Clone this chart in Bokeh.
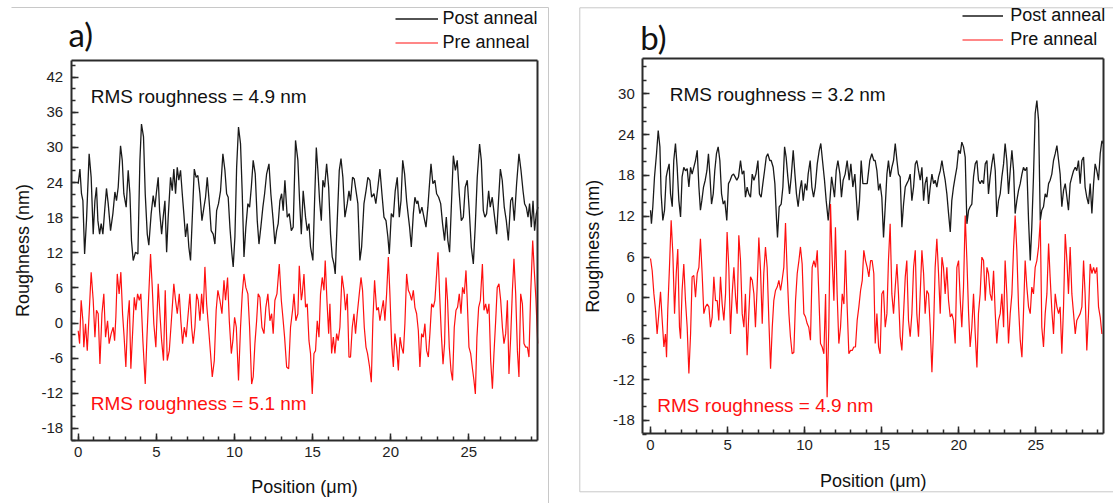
from bokeh.plotting import figure
from bokeh.layouts import row
from bokeh.models import Range1d, FixedTicker, Label, Legend, LegendItem, LinearAxis, NumeralTickFormatter
from bokeh.embed import file_html
from bokeh.resources import INLINE

# ---------------- data ----------------
# panel a) post anneal  (position um, roughness nm)
POST_A = [(0.00,23.8),(0.11,26.3),(0.21,22.1),(0.30,20.9),(0.41,11.8),(0.53,17.5),(0.70,28.9),(0.83,24.9),(0.96,15.2),(1.07,20.9),(1.17,23.2),(1.26,17.5),(1.37,15.2),(1.47,17.0),(1.58,15.2),(1.71,19.8),(1.81,23.0),(1.92,20.4),(2.07,15.8),(2.22,18.7),(2.35,22.4),(2.45,20.9),(2.56,23.2),(2.71,30.3),(2.82,27.8),(2.92,22.1),(3.07,19.8),(3.20,26.1),(3.31,22.1),(3.41,14.1),(3.52,10.7),(3.67,12.1),(3.82,11.8),(3.95,27.8),(4.05,34.0),(4.18,31.8),(4.29,22.1),(4.42,15.2),(4.52,13.3),(4.67,18.7),(4.80,21.8),(4.91,19.8),(5.01,22.4),(5.12,24.9),(5.21,19.2),(5.34,15.2),(5.44,18.1),(5.55,20.9),(5.66,12.1),(5.76,18.1),(5.91,24.9),(6.02,22.6),(6.12,26.3),(6.23,22.1),(6.34,26.6),(6.44,24.4),(6.55,26.1),(6.66,22.1),(6.76,18.7),(6.87,14.7),(6.98,17.0),(7.08,13.0),(7.19,10.7),(7.32,19.2),(7.43,26.3),(7.55,24.9),(7.66,25.2),(7.79,22.1),(7.92,17.5),(8.05,19.8),(8.15,21.5),(8.26,24.9),(8.41,19.8),(8.51,15.8),(8.64,15.2),(8.75,13.5),(8.86,19.2),(8.98,20.4),(9.11,22.6),(9.26,28.9),(9.39,26.1),(9.50,22.1),(9.60,21.5),(9.71,16.4),(9.84,11.8),(9.92,9.6),(10.03,14.7),(10.14,26.6),(10.26,33.5),(10.39,30.6),(10.50,22.1),(10.61,11.3),(10.73,16.4),(10.86,20.4),(10.97,19.8),(11.08,23.2),(11.20,27.8),(11.33,25.5),(11.46,17.5),(11.57,13.5),(11.69,16.4),(11.82,19.8),(11.93,22.1),(12.06,25.5),(12.21,27.2),(12.33,22.1),(12.48,17.5),(12.59,13.5),(12.70,15.8),(12.80,17.0),(12.91,20.9),(13.02,22.1),(13.12,19.2),(13.23,24.4),(13.38,18.1),(13.51,18.7),(13.64,15.8),(13.76,16.4),(13.91,31.2),(14.06,27.8),(14.17,20.9),(14.28,15.2),
          (14.40,22.6),(14.55,18.1),(14.66,15.8),(14.77,17.0),(14.87,13.0),(15.02,10.7),(15.13,20.9),(15.24,30.0),(15.34,26.1),(15.45,20.9),(15.56,17.5),(15.66,24.4),(15.77,23.2),(15.90,27.2),(16.03,23.2),(16.15,15.2),(16.26,11.3),(16.37,10.1),(16.45,8.4),(16.58,17.5),(16.71,26.1),(16.82,28.1),(16.94,24.9),(17.07,18.1),(17.22,20.4),(17.33,22.6),(17.43,20.9),(17.56,24.9),(17.67,24.6),(17.78,22.6),(17.90,20.4),(18.03,10.7),(18.14,13.0),(18.29,20.4),(18.42,22.6),(18.54,24.9),(18.67,24.4),(18.78,21.5),(18.93,22.1),(19.05,20.4),(19.18,23.2),(19.31,26.3),(19.44,22.1),(19.57,18.1),(19.70,17.5),(19.82,14.7),(19.91,11.8),(20.04,18.7),(20.17,18.1),(20.29,22.6),(20.42,24.9),(20.55,18.1),(20.66,20.9),(20.77,27.8),(20.89,25.5),(21.02,20.9),(21.11,18.7),(21.21,16.4),(21.32,13.0),(21.45,18.7),(21.55,21.5),(21.66,20.4),(21.74,20.9),(21.87,18.7),(22.00,19.8),(22.13,18.1),(22.26,16.4),(22.38,19.8),(22.47,23.2),(22.58,27.2),(22.70,23.8),(22.83,24.4),(22.94,22.1),(23.07,21.5),(23.20,20.4),(23.32,17.0),(23.45,14.1),(23.56,18.1),(23.66,14.1),(23.77,12.1),(23.88,19.8),(24.01,28.6),(24.14,26.1),(24.26,27.8),(24.39,22.1),(24.52,17.5),(24.65,18.1),(24.77,23.2),(24.90,24.4),(25.03,19.2),(25.16,13.0),(25.29,10.1),(25.41,16.4),(25.54,24.9),(25.69,30.6),(25.80,27.8),(25.93,19.2),(26.03,18.1),(26.14,18.7),(26.27,22.6),(26.37,19.8),(26.50,21.5),(26.65,18.1),(26.78,15.2),(26.89,20.4),(27.02,26.3),(27.14,24.4),(27.27,19.8),(27.40,17.5),(27.53,14.1),(27.68,20.9),(27.79,21.5),(27.91,17.5),(28.06,23.8),(28.21,28.9),(28.34,26.1),(28.47,22.6),(28.57,20.4),(28.68,19.8),(28.79,18.1),(28.89,20.4),(29.00,16.4),(29.11,20.9),(29.21,15.8),(29.32,18.7),(29.43,19.8)]

# panel a) pre anneal
PRE_A = [(0.00,-1.3),(0.09,-3.5),(0.19,3.9),(0.30,0.4),(0.36,-4.1),(0.47,-0.1),(0.58,-4.7),(0.70,1.6),(0.83,8.7),(0.96,3.9),(1.07,-2.4),(1.17,2.2),(1.28,1.6),(1.39,-7.0),(1.52,1.6),(1.64,5.0),(1.75,-2.4),(1.88,0.4),(1.98,-3.5),(2.11,-1.8),(2.24,-0.7),(2.33,-3.0),(2.41,1.0),(2.50,8.4),(2.62,5.0),(2.73,8.7),(2.84,1.6),(2.94,-2.4),(3.05,-7.5),(3.16,0.4),(3.27,3.9),(3.37,-7.8),(3.48,-1.8),(3.59,4.4),(3.69,2.2),(3.80,5.0),(3.91,3.9),(4.01,5.0),(4.14,-3.0),(4.29,-10.4),(4.40,-2.4),(4.50,3.9),(4.63,11.8),(4.74,6.1),(4.84,-0.1),(4.97,-4.1),(5.12,6.7),(5.23,1.6),(5.34,-3.0),(5.46,-6.4),(5.57,5.6),(5.70,-6.4),(5.83,-4.7),(5.95,-0.1),(6.12,6.7),(6.23,3.9),(6.34,1.6),(6.47,5.0),(6.57,0.4),(6.68,-3.5),(6.79,-0.7),(6.91,-2.4),(7.02,1.0),(7.15,5.0),(7.26,-0.7),(7.36,-3.5),(7.47,-0.7),(7.58,5.0),(7.68,3.9),(7.79,0.4),(7.90,5.0),(8.00,1.6),(8.11,9.6),(8.22,3.3),(8.34,-0.7),(8.47,-5.2),(8.58,-9.2),(8.71,-6.4),(8.83,2.2),(8.94,5.6),(9.07,3.9),(9.20,1.6),(9.33,7.3),(9.43,3.9),(9.56,7.8),(9.67,0.4),(9.80,-5.2),(9.90,-3.0),(10.01,1.0),(10.12,-0.7),(10.26,-9.8),(10.39,-0.7),(10.50,5.0),(10.61,8.4),(10.73,6.1),(10.86,5.0),(10.97,-0.7),(11.10,-10.4),(11.20,-9.2),(11.31,-3.5),(11.42,0.4),(11.52,5.0),(11.63,4.4),(11.76,-0.7),(11.89,-1.8),(12.01,2.7),(12.14,5.0),(12.27,0.4),(12.38,1.6),(12.48,-1.8),(12.59,3.9),(12.72,5.0),(12.87,10.1),(13.00,3.9),(13.10,1.0),(13.21,-2.4),(13.34,-7.5),(13.47,-7.8),(13.59,-0.7),(13.72,2.2),(13.81,5.0),(13.93,0.4),(14.06,1.6),(14.15,9.8),(14.28,3.9),
         (14.34,5.0),(14.45,8.4),(14.55,2.7),(14.66,3.3),(14.77,-3.0),(14.87,-5.2),(14.98,-12.1),(15.09,-5.2),(15.19,-4.7),(15.30,0.4),(15.41,-2.4),(15.51,5.0),(15.62,7.8),(15.73,5.6),(15.81,10.7),(15.92,3.9),(16.03,-1.8),(16.11,3.3),(16.22,-5.2),(16.33,-2.4),(16.43,-5.2),(16.54,-1.8),(16.64,-3.0),(16.75,-0.7),(16.88,8.1),(17.01,5.6),(17.11,2.2),(17.22,5.0),(17.33,-5.8),(17.43,-5.8),(17.54,-0.7),(17.65,1.6),(17.75,-1.8),(17.86,1.6),(17.99,5.0),(18.10,7.8),(18.20,5.6),(18.31,-0.7),(18.42,-4.1),(18.52,-5.2),(18.65,-7.5),(18.76,-10.1),(18.86,0.4),(18.97,7.3),(19.10,2.2),(19.21,2.7),(19.31,0.4),(19.42,2.2),(19.53,3.9),(19.63,0.4),(19.74,5.0),(19.85,11.3),(19.95,5.0),(20.06,-3.5),(20.17,-7.5),(20.27,-1.8),(20.38,-4.1),(20.49,-8.1),(20.60,-2.4),(20.70,-4.1),(20.81,-5.2),(20.91,-0.1),(21.02,8.4),(21.13,5.6),(21.23,5.0),(21.34,3.9),(21.45,5.6),(21.55,2.7),(21.66,1.6),(21.77,-1.3),(21.87,-7.5),(21.98,-1.8),(22.09,-2.4),(22.19,-0.1),(22.30,-4.7),(22.41,-5.8),(22.51,-1.8),(22.62,3.3),(22.73,2.7),(22.83,3.9),(22.94,8.4),(23.03,12.1),(23.13,5.0),(23.24,-1.8),(23.35,-7.0),(23.45,-3.5),(23.54,7.8),(23.64,3.9),(23.75,-4.1),(23.86,-8.1),(23.96,-9.8),(24.07,-0.7),(24.18,2.2),(24.28,2.7),(24.39,5.0),(24.50,1.6),(24.60,6.1),(24.71,5.0),(24.82,9.0),(24.90,3.9),(25.01,-4.1),(25.12,-5.2),(25.22,-7.5),(25.33,-9.8),(25.42,-12.1),(25.52,-2.4),(25.63,2.7),(25.74,3.9),(25.87,10.1),(25.97,2.2),(26.08,3.3),(26.19,1.6),(26.29,3.3),(26.40,-6.4),(26.51,-11.2),(26.61,-5.2),(26.72,0.4),(26.82,6.1),(26.93,6.7),(27.04,3.9),(27.15,-0.7),(27.25,-3.5),(27.36,-1.8),(27.47,3.9),(27.57,-8.7),(27.68,-2.4),(27.79,5.6),(27.89,11.0),(28.00,5.0),(28.11,-4.7),(28.21,-9.2),(28.32,5.0),(28.43,3.3),(28.53,-3.5),(28.64,-4.1),(28.75,-4.1),(28.85,-5.8),(28.96,5.0),(29.09,14.1),(29.19,9.0),(29.30,3.9),(29.41,-3.5)]

# panel b) post anneal
POST_B = [(0.00,12.9),(0.06,10.9),(0.15,13.4),(0.26,17.8),(0.39,21.2),(0.50,24.6),(0.61,22.2),(0.69,15.3),(0.80,11.4),(0.91,12.9),(1.02,17.8),(1.10,18.7),(1.21,19.7),(1.30,15.3),(1.41,13.4),(1.51,20.2),(1.62,22.7),(1.73,19.2),(1.84,14.3),(1.95,11.9),(2.05,17.8),(2.16,19.2),(2.27,18.7),(2.38,19.0),(2.49,16.3),(2.60,19.2),(2.70,18.2),(2.81,19.2),(2.92,20.2),(3.03,21.7),(3.14,16.3),(3.24,12.9),(3.33,14.3),(3.44,16.3),(3.55,17.3),(3.66,18.7),(3.76,21.2),(3.85,18.2),(3.96,13.8),(4.07,15.3),(4.17,18.7),(4.28,21.2),(4.39,22.2),(4.50,20.2),(4.61,15.3),(4.72,13.8),(4.82,14.3),(4.95,11.4),(5.06,16.8),(5.17,17.3),(5.28,18.0),(5.39,18.2),(5.49,17.8),(5.60,17.3),(5.71,17.8),(5.84,20.2),(5.95,18.2),(6.06,18.7),(6.16,14.8),(6.27,16.3),(6.38,15.3),(6.49,14.8),(6.60,18.2),(6.71,17.3),(6.84,18.2),(6.97,20.2),(7.07,15.3),(7.18,14.8),(7.29,16.8),(7.40,18.7),(7.51,20.7),(7.61,21.2),(7.74,20.2),(7.83,20.2),(7.96,19.2),(8.07,16.8),(8.18,11.4),(8.24,8.9),(8.35,13.4),(8.48,13.8),(8.59,16.3),(8.70,22.2),(8.80,20.7),(8.91,17.8),(9.02,15.3),(9.13,17.8),(9.26,21.7),(9.37,18.2),(9.47,15.3),(9.58,13.4),(9.69,15.8),(9.80,17.3),(9.91,14.3),(10.04,16.8),(10.14,15.8),(10.23,18.2),(10.36,20.2),(10.47,16.3),(10.58,14.8),(10.69,16.3),(10.82,19.7),(10.95,21.7),(11.05,22.7),(11.16,20.2),(11.29,17.3),(11.40,14.3),(11.53,11.4),(11.64,14.3),(11.75,17.8),(11.85,16.3),(11.94,14.8),(12.05,18.7),(12.16,20.2),(12.29,18.2),(12.39,14.8),(12.50,17.3),(12.63,18.2),(12.76,20.2),(12.89,17.3),(13.00,19.7),(13.13,16.3),(13.26,18.2),(13.37,14.3),(13.45,11.4),(13.56,14.3),(13.67,20.2),(13.78,16.8),(13.91,16.8),(14.06,16.8),(14.23,20.2),(14.36,21.2),(14.49,20.2),
          (14.58,20.2),(14.69,18.7),(14.80,15.8),(14.90,16.8),(15.01,14.8),(15.12,8.9),(15.23,13.4),(15.34,18.2),(15.44,20.2),(15.55,17.8),(15.66,19.2),(15.77,20.2),(15.88,22.7),(15.99,20.2),(16.09,18.2),(16.20,17.8),(16.31,10.4),(16.42,13.8),(16.53,16.3),(16.63,16.8),(16.74,17.3),(16.85,18.2),(16.96,14.3),(17.07,16.3),(17.18,19.7),(17.28,20.2),(17.39,18.7),(17.50,17.3),(17.61,19.2),(17.72,14.3),(17.82,16.8),(17.93,17.8),(18.04,13.8),(18.15,16.3),(18.26,18.2),(18.37,16.8),(18.47,17.3),(18.58,16.3),(18.69,17.8),(18.80,18.7),(18.91,20.2),(19.01,18.7),(19.12,17.3),(19.23,15.3),(19.34,12.4),(19.45,9.7),(19.55,14.3),(19.66,16.3),(19.77,17.8),(19.88,19.2),(19.99,21.7),(20.10,21.2),(20.20,22.9),(20.31,22.2),(20.42,20.7),(20.53,10.9),(20.64,12.9),(20.74,13.4),(20.85,13.8),(20.96,17.8),(21.07,19.7),(21.18,20.2),(21.28,17.3),(21.39,16.8),(21.50,17.3),(21.61,16.8),(21.72,19.7),(21.83,20.2),(21.93,15.3),(22.04,17.8),(22.15,19.7),(22.26,21.2),(22.37,18.7),(22.47,11.9),(22.58,14.3),(22.69,15.3),(22.80,17.8),(22.91,19.7),(23.01,22.7),(23.12,20.2),(23.23,15.3),(23.34,18.7),(23.45,21.7),(23.56,18.7),(23.66,12.4),(23.77,14.3),(23.88,15.8),(23.99,16.8),(24.10,18.2),(24.20,19.2),(24.31,18.7),(24.42,19.2),(24.53,11.4),(24.64,5.5),(24.74,10.4),(24.85,17.8),(24.96,27.1),(25.07,29.0),(25.18,26.1),(25.29,11.4),(25.39,12.9),(25.50,13.4),(25.61,15.3),(25.72,14.8),(25.83,16.8),(25.93,17.3),(26.04,18.2),(26.15,20.2),(26.26,21.2),(26.37,22.4),(26.48,20.2),(26.58,18.2),(26.69,13.4),(26.80,15.8),(26.91,16.8),(27.02,14.8),(27.12,12.9),(27.23,16.8),(27.34,17.8),(27.45,18.7),(27.56,19.2),(27.66,18.7),(27.77,20.2),(27.88,16.8),(27.99,20.2),(28.10,20.7),(28.20,16.3),(28.31,14.8),(28.42,13.8),(28.53,16.8),(28.64,12.4),(28.75,16.8),(28.85,19.7),(28.96,18.7),(29.07,17.3),(29.18,21.2),(29.29,23.1),(29.36,22.7)]

# panel b) pre anneal
PRE_B = [(0.00,5.8),(0.11,4.0),(0.22,0.6),(0.32,-1.6),(0.43,-5.3),(0.54,-2.3),(0.65,0.9),(0.76,-3.3),(0.87,-7.2),(0.97,-5.3),(1.04,-8.7),(1.12,-1.8),(1.23,4.5),(1.34,11.4),(1.45,6.5),(1.56,-2.3),(1.67,3.6),(1.77,7.2),(1.88,-4.3),(1.95,-6.0),(2.05,1.1),(2.16,5.0),(2.27,-0.4),(2.38,-4.3),(2.49,-11.1),(2.60,-5.3),(2.70,3.1),(2.81,3.3),(2.92,0.1),(3.03,3.6),(3.14,4.5),(3.24,8.7),(3.35,3.6),(3.46,-2.3),(3.57,-1.3),(3.68,-0.9),(3.79,-1.3),(3.89,-4.3),(4.00,-2.8),(4.11,3.1),(4.22,-0.4),(4.33,-0.4),(4.43,-3.3),(4.54,3.1),(4.65,-0.9),(4.76,-3.3),(4.87,0.6),(4.97,9.7),(5.08,4.5),(5.19,-5.3),(5.30,0.6),(5.41,4.5),(5.52,0.1),(5.62,-2.3),(5.73,9.2),(5.84,5.5),(5.95,-2.3),(6.06,-4.3),(6.16,0.6),(6.27,-8.4),(6.38,-2.3),(6.49,3.1),(6.60,2.6),(6.71,0.6),(6.81,-4.3),(6.92,1.6),(7.03,8.9),(7.14,4.0),(7.25,-3.8),(7.35,3.6),(7.46,7.5),(7.57,4.5),(7.68,-3.3),(7.79,-10.4),(7.90,-4.3),(8.00,-0.4),(8.11,1.1),(8.22,1.6),(8.33,2.6),(8.44,1.1),(8.54,2.6),(8.65,4.5),(8.76,11.0),(8.87,3.6),(8.98,-2.3),(9.08,-5.7),(9.19,-8.2),(9.30,-8.0),(9.41,-0.4),(9.52,3.6),(9.63,5.5),(9.73,7.5),(9.84,5.0),(9.95,-2.3),(10.06,-2.8),(10.17,-3.8),(10.27,-4.3),(10.38,-6.2),(10.49,4.5),(10.60,5.5),(10.71,4.5),(10.82,7.0),(10.92,0.6),(11.03,-6.7),(11.14,-7.2),(11.25,-8.2),(11.36,0.6),(11.46,-14.6),(11.57,-4.3),(11.68,13.8),(11.79,5.5),(11.90,-0.4),(12.00,10.4),(12.11,0.6),(12.22,-6.7),(12.33,-4.3),(12.44,0.6),(12.55,-0.9),(12.65,7.0),(12.76,-1.3),(12.87,-8.2),(12.98,-7.7),(13.09,-7.7),(13.19,-7.2),(13.30,-7.2),(13.41,-3.3),(13.52,-1.3),(13.63,1.1),(13.74,2.6),(13.84,7.0),(13.95,5.5),(14.06,4.5),(14.17,3.1),(14.28,5.5),(14.38,5.5),(14.49,3.6),
         (14.58,-6.7),(14.69,-2.3),(14.80,-7.2),(14.90,-8.2),(15.01,0.6),(15.12,1.1),(15.23,-4.3),(15.34,-2.3),(15.44,5.5),(15.55,10.9),(15.66,0.6),(15.77,-2.3),(15.88,1.6),(15.99,5.0),(16.09,0.6),(16.20,-5.7),(16.31,-7.7),(16.42,-2.3),(16.53,3.1),(16.63,5.5),(16.74,-3.3),(16.85,-5.7),(16.96,-2.3),(17.07,4.5),(17.18,7.0),(17.28,-2.3),(17.39,-5.7),(17.50,0.6),(17.61,7.0),(17.72,3.6),(17.82,-2.3),(17.93,1.1),(18.04,0.6),(18.15,-4.3),(18.26,-10.9),(18.37,-4.3),(18.47,4.5),(18.58,8.7),(18.69,3.6),(18.80,-2.3),(18.91,6.0),(19.01,4.5),(19.12,0.6),(19.23,4.5),(19.34,-0.4),(19.45,-2.8),(19.55,-2.3),(19.66,-3.3),(19.77,-6.7),(19.88,4.5),(19.99,5.5),(20.10,-0.4),(20.20,-4.3),(20.31,1.6),(20.42,12.1),(20.53,5.5),(20.64,-2.3),(20.74,-7.2),(20.85,-4.3),(20.96,0.6),(21.07,-5.3),(21.18,-10.2),(21.28,-2.3),(21.39,0.6),(21.50,6.0),(21.61,5.5),(21.72,-0.4),(21.83,4.5),(21.93,3.6),(22.04,0.6),(22.15,-0.4),(22.26,4.0),(22.37,-2.3),(22.47,-6.7),(22.58,-3.3),(22.69,-2.3),(22.80,0.6),(22.91,-4.3),(23.01,5.5),(23.12,0.6),(23.23,-6.7),(23.34,-2.3),(23.45,0.6),(23.56,7.5),(23.66,12.1),(23.77,7.0),(23.88,-1.3),(23.99,-6.2),(24.10,-8.7),(24.20,-2.3),(24.31,5.5),(24.42,1.6),(24.53,-1.3),(24.64,-2.3),(24.74,1.6),(24.85,0.6),(24.96,4.5),(25.07,5.5),(25.18,7.5),(25.29,11.4),(25.39,-4.3),(25.50,-7.2),(25.61,-2.3),(25.72,0.6),(25.83,8.0),(25.93,3.1),(26.04,-1.8),(26.15,-5.3),(26.26,0.6),(26.37,-1.3),(26.48,-2.3),(26.58,-1.3),(26.69,-8.2),(26.80,-1.3),(26.91,9.4),(27.02,5.5),(27.12,0.6),(27.23,7.5),(27.34,0.6),(27.45,-2.3),(27.56,-5.3),(27.66,-3.3),(27.77,-2.8),(27.88,-2.3),(27.99,-1.3),(28.10,5.5),(28.20,0.6),(28.31,-7.7),(28.42,-2.3),(28.53,5.0),(28.64,3.6),(28.75,4.5),(28.85,3.6),(28.96,4.5),(29.07,-1.3),(29.18,-2.8),(29.29,-5.3)]

X_MAJOR = [0, 5, 10, 15, 20, 25]
X_MINOR = list(range(0, 30))
Y_MAJOR_A = list(range(-18, 43, 6))
Y_MINOR_A = list(range(-20, 45, 2))
Y_MAJOR_B = list(range(-18, 31, 6))
Y_MINOR_B = list(range(-20, 35, 2))
SERIES_NAMES = ["Post anneal", "Pre anneal"]
RMS_TEXT_A = ["RMS roughness = 4.9 nm", "RMS roughness = 5.1 nm"]
RMS_TEXT_B = ["RMS roughness = 3.2 nm", "RMS roughness = 4.9 nm"]
X_LABEL = "Position (\u03bcm)"
Y_LABEL = "Roughness (nm)"

BLACK = "#1a1a1a"
RED = "#ff1010"
AXIS = "#2b2b2b"
FRAME_GRAY = "#c8c8c8"
FONT = "Liberation Sans"


def styled_axis(ax, label_standoff):
    ax.axis_line_color = AXIS
    ax.axis_line_width = 2
    ax.major_tick_line_color = AXIS
    ax.minor_tick_line_color = AXIS
    ax.major_tick_line_width = 1.5
    ax.minor_tick_line_width = 1.5
    ax.major_tick_in = 7
    ax.major_tick_out = 0
    ax.minor_tick_in = 4
    ax.minor_tick_out = 0
    ax.major_label_text_font = FONT
    ax.major_label_text_font_size = "15px"
    ax.major_label_text_color = "#1e1e1e"
    ax.major_label_standoff = label_standoff
    ax.formatter = NumeralTickFormatter(format="0")
    return ax


def panel(post, pre, cfg):
    p = figure(width=cfg["w"], height=cfg["h"],
               x_range=Range1d(*cfg["xr"]), y_range=Range1d(*cfg["yr"]),
               output_backend="svg", toolbar_location=None,
               x_axis_location=None, y_axis_location=None,
               min_border_left=0, min_border_right=0,
               min_border_top=0, min_border_bottom=0)
    p.grid.visible = False
    p.background_fill_color = "white"
    p.border_fill_color = "white"
    p.outline_line_color = None

    bx0, bx1 = cfg["box_x"]
    by0, by1 = cfg["box_y"]

    # plot box: real axes pinned to the box edges
    left = styled_axis(LinearAxis(ticker=FixedTicker(ticks=cfg["ymaj"], minor_ticks=cfg["ymin"]),
                                  fixed_location=bx0, bounds=(by0, by1)), 8)
    bottom = styled_axis(LinearAxis(ticker=FixedTicker(ticks=X_MAJOR, minor_ticks=X_MINOR),
                                    fixed_location=by0, bounds=(bx0, bx1)), 6)
    right = styled_axis(LinearAxis(ticker=FixedTicker(ticks=[], minor_ticks=[]),
                                   fixed_location=bx1, bounds=(by0, by1)), 6)
    top = styled_axis(LinearAxis(ticker=FixedTicker(ticks=[], minor_ticks=[]),
                                 fixed_location=by1, bounds=(bx0, bx1)), 6)
    p.add_layout(left, "left")
    p.add_layout(bottom, "below")
    p.add_layout(right, "right")
    p.add_layout(top, "above")

    # light gray panel frame
    for (x0, y0, x1, y1) in cfg["frame"]:
        p.segment(x0=[x0], y0=[y0], x1=[x1], y1=[y1], line_color=FRAME_GRAY, line_width=1)

    r_post = p.line([v[0] for v in post], [v[1] for v in post], line_color=BLACK, line_width=1.3)
    r_pre = p.line([v[0] for v in pre], [v[1] for v in pre], line_color=RED, line_width=1.2)

    legend = Legend(items=[LegendItem(label=SERIES_NAMES[0], renderers=[r_post]),
                           LegendItem(label=SERIES_NAMES[1], renderers=[r_pre])],
                    location=cfg["legend_loc"], orientation="vertical",
                    background_fill_alpha=0, border_line_alpha=0,
                    padding=0, margin=0, spacing=3,
                    glyph_width=cfg["glyph_w"], glyph_height=21, label_height=21,
                    label_standoff=cfg["glyph_gap"], label_text_font=FONT,
                    label_text_font_size="18px", label_text_color="#111111")
    p.add_layout(legend)

    p.add_layout(Label(x=cfg["letter"][0], y=cfg["letter"][1], text=cfg["letter_text"],
                       text_font="Lato", text_font_size="33px", text_color="#111111",
                       text_baseline="alphabetic", text_align="left"))
    p.add_layout(Label(x=cfg["rms_post"][0], y=cfg["rms_post"][1], text=cfg["rms"][0],
                       text_font=FONT, text_font_size="19px", text_color="#111111",
                       text_baseline="alphabetic", text_align="left"))
    p.add_layout(Label(x=cfg["rms_pre"][0], y=cfg["rms_pre"][1], text=cfg["rms"][1],
                       text_font=FONT, text_font_size="19px", text_color=RED,
                       text_baseline="alphabetic", text_align="left"))
    p.add_layout(Label(x=cfg["xlab"][0], y=cfg["xlab"][1], text=X_LABEL,
                       text_font=FONT, text_font_size="18px", text_color="#111111",
                       text_baseline="alphabetic", text_align="center"))
    p.add_layout(Label(x=cfg["ylab"][0], y=cfg["ylab"][1], text=Y_LABEL, angle=90, angle_units="deg",
                       text_font=FONT, text_font_size="18px", text_color="#111111",
                       text_baseline="alphabetic", text_align="center"))
    return p


cfg_a = dict(w=560, h=503,
             xr=(-4.973, 30.869), yr=(-30.810, 55.100),
             box_x=(-0.45, 29.42), box_y=(-20.1, 44.85),
             ymaj=Y_MAJOR_A, ymin=Y_MINOR_A,
             legend_loc=(394.5, 450.2), glyph_w=43, glyph_gap=5,
             letter=(-0.621, 49.34), letter_text="a)",
             rms=RMS_TEXT_A, rms_post=(0.80, 38.70), rms_pre=(0.80, -13.77),
             xlab=(14.484, -28.04), ylab=(-3.56, 12.40),
             frame=[(-4.269, 53.905, 30.101, 53.905), (30.101, 53.905, 30.101, -30.81)])

cfg_b = dict(w=553, h=503,
             xr=(-5.840, 30.042), yr=(-30.197, 43.709),
             box_x=(-0.50, 29.41), box_y=(-19.96, 35.14),
             ymaj=Y_MAJOR_B, ymin=Y_MINOR_B,
             legend_loc=(402.2, 452.8), glyph_w=41, glyph_gap=7,
             letter=(-0.668, 38.35), letter_text="b)",
             rms=RMS_TEXT_B, rms_post=(1.246, 29.91), rms_pre=(0.441, -15.78),
             xlab=(14.456, -26.94), ylab=(-3.73, 7.59),
             frame=[(-4.587, 42.636, 30.042, 42.636), (-4.587, 42.636, -4.587, -28.478),
                    (-4.587, -28.478, 30.042, -28.478)])

pa = panel(POST_A, PRE_A, cfg_a)
pb = panel(POST_B, PRE_B, cfg_b)
layout = row(pa, pb)

open("out.html", "w").write(file_html(layout, INLINE))
